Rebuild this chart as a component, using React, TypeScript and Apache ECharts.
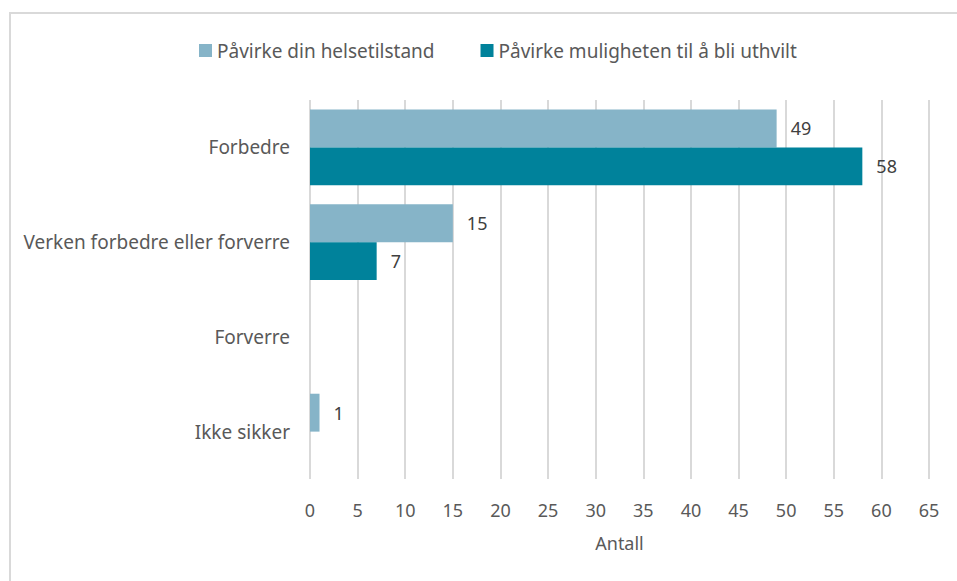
import React, { useEffect, useRef } from "react";
import * as echarts from "echarts";

const categories = ["Forbedre", "Verken forbedre eller forverre", "Forverre", "Ikke sikker"];
const seriesNames = ["Påvirke din helsetilstand", "Påvirke muligheten til å bli uthvilt"];
const helseValues: (number | null)[] = [49, 15, null, 1];
const uthviltValues: (number | null)[] = [58, 7, null, null];
const colors = ["#86B4C8", "#00829B"];

export default function App() {
  const ref = useRef<HTMLDivElement>(null);
  useEffect(() => {
    if (!ref.current) return;
    const chart = echarts.init(ref.current, null, { renderer: "svg" });
    const font = "'Source Sans Pro', 'Noto Sans', sans-serif";
    const labelStyle = {
      show: true,
      position: "right" as const,
      distance: 14,
      color: "#404040",
      fontSize: 18,
      fontFamily: font,
    };
    chart.setOption({
      animation: false,
      backgroundColor: "#ffffff",
      textStyle: { fontFamily: font },
      graphic: [
        {
          type: "rect",
          shape: { x: 10, y: 13, width: 960, height: 600 },
          style: { fill: "none", stroke: "#d9d9d9", lineWidth: 2 },
          silent: true,
        },
      ],
      legend: {
        top: 36,
        left: 194,
        itemWidth: 13,
        itemHeight: 13,
        itemGap: 46,
        icon: "rect",
        textStyle: { color: "#595959", fontSize: 19, fontFamily: font },
        data: seriesNames,
      },
      grid: { left: 310, right: 28, top: 100, bottom: 102, containLabel: false },
      xAxis: {
        type: "value",
        min: 0,
        max: 65,
        interval: 5,
        name: "Antall",
        nameLocation: "middle",
        nameGap: 55,
        nameTextStyle: { color: "#595959", fontSize: 18, fontFamily: font },
        axisLine: { show: false },
        axisTick: { show: false },
        axisLabel: { color: "#595959", fontSize: 18, margin: 22, fontFamily: font },
        splitLine: { show: true, lineStyle: { color: "#d9d9d9", width: 2 } },
      },
      yAxis: {
        type: "category",
        data: categories,
        inverse: true,
        axisLine: { show: false },
        axisTick: { show: false },
        axisLabel: { color: "#595959", fontSize: 19, margin: 20, fontFamily: font },
        splitLine: { show: false },
      },
      series: [
        {
          name: seriesNames[0],
          type: "bar",
          data: helseValues,
          itemStyle: { color: colors[0] },
          barGap: "0%",
          barCategoryGap: "20%",
          label: labelStyle,
        },
        {
          name: seriesNames[1],
          type: "bar",
          data: uthviltValues,
          itemStyle: { color: colors[1] },
          barGap: "0%",
          barCategoryGap: "20%",
          label: labelStyle,
        },
      ],
    });
    return () => chart.dispose();
  }, []);
  return (
    <div
      ref={ref}
      style={{ position: "fixed", left: 0, top: 0, width: 957, height: 581 }}
    />
  );
}
